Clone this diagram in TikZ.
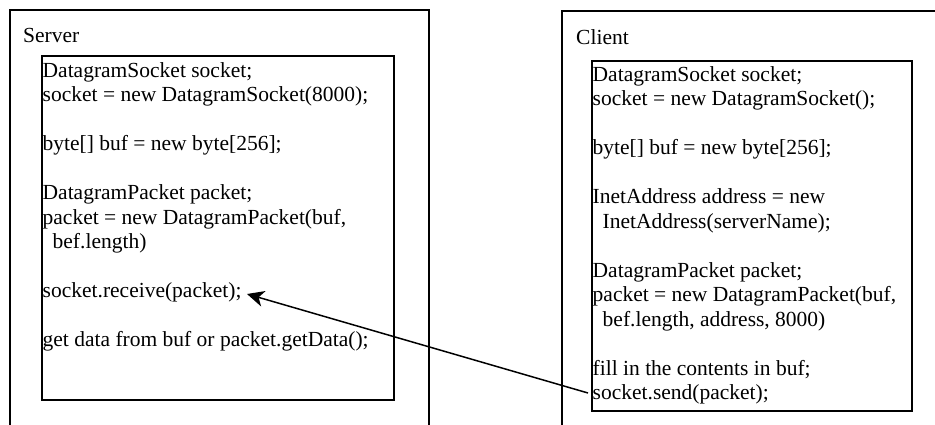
\documentclass[tikz,border=0pt]{standalone}
\usepackage{fontspec}
\setmainfont{Liberation Serif}
\usetikzlibrary{arrows.meta}
\tikzset{
  frame/.style={draw=black, line width=1.4pt},
  codebox/.style={draw=black, line width=1.6pt},
  code/.style={anchor=base west, inner sep=0pt, align=left,
               font=\fontsize{21.5}{24.5}\selectfont},
  title/.style={anchor=base west, inner sep=0pt, font=\fontsize{21.5}{24.5}\selectfont},
  msg/.style={line width=1.5pt, -{Stealth[length=17pt,width=16pt,inset=5pt]}}
}
\begin{document}
\begin{tikzpicture}[x=1pt,y=-1pt]
\useasboundingbox (0,0) rectangle (935,425);
% outer frames (open at the bottom / right)
\draw[frame] (10,426) -- (10,10) -- (429,10) -- (429,426);
\draw[frame] (562,426) -- (562,11) -- (936,11);
% inner code boxes
\draw[codebox] (42,56) rectangle (394,400);
\draw[codebox] (592,61) rectangle (912,411);
% titles
\node[title] (server) at (23,43) {Server};
\node[title] (client) at (576,45) {Client};
% code (anchored at the baseline of the last line)
\node[code] (scode) at (42.5,346.5) {DatagramSocket socket;\\
socket = new DatagramSocket(8000);\\[24.5pt]
byte[] buf = new byte[256];\\[24.5pt]
DatagramPacket packet;\\
packet = new DatagramPacket(buf,\\
\hspace*{10pt}bef.length)\\[24.5pt]
socket.receive(packet);\\[24.5pt]
get data from buf or packet.getData();};
\node[code] (ccode) at (592.5,399.5) {DatagramSocket socket;\\
socket = new DatagramSocket();\\[24.5pt]
byte[] buf = new byte[256];\\[24.5pt]
InetAddress address = new\\
\hspace*{10pt}InetAddress(serverName);\\[24.5pt]
DatagramPacket packet;\\
packet = new DatagramPacket(buf,\\
\hspace*{10pt}bef.length, address, 8000)\\[24.5pt]
fill in the contents in buf;\\
socket.send(packet);};
% message arrow
\coordinate (sendpt) at (588,393);
\coordinate (recvpt) at (247,294);
\draw[msg] (sendpt) -- (recvpt);
\end{tikzpicture}
\end{document}
